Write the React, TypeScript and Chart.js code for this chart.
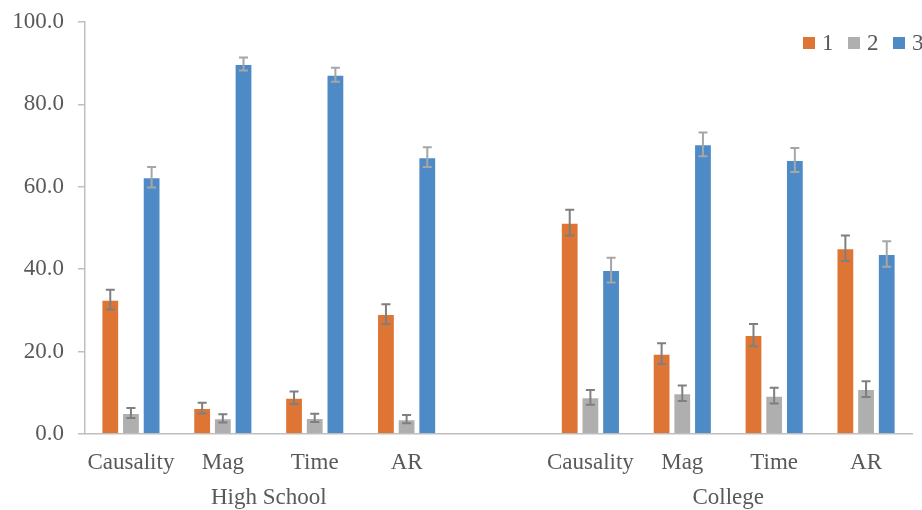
import React, { useEffect, useRef } from "react";
import { Chart, registerables } from "chart.js";

Chart.register(...registerables);

const categories = ["Causality", "Mag", "Time", "AR", "", "Causality", "Mag", "Time", "AR"];
const groupLabels = ["High School", "College"];
const groupRanges = [[0, 3], [5, 8]];
const seriesNames = ["1", "2", "3"];
const series1 = [32.6, 6.3, 8.8, 29.1, null, 51.3, 19.5, 24.0, 45.1];
const series2 = [5.1, 3.8, 3.9, 3.6, null, 8.9, 9.9, 9.3, 10.9];
const series3 = [62.3, 89.8, 87.2, 67.2, null, 39.8, 70.3, 66.5, 43.7];
const err1 = [2.4, 1.3, 1.5, 2.4, null, 3.1, 2.5, 2.7, 3.1];
const err2 = [1.2, 1.0, 1.0, 1.0, null, 1.8, 1.9, 1.9, 1.9];
const err3 = [2.5, 1.6, 1.7, 2.4, null, 3.0, 2.9, 2.9, 3.1];
const colors = ["#DF7534", "#AFAFAF", "#4E8AC6"];
const errColors = ["#7F7F7F", "#7F7F7F", "#A6A6A6"];
const yTicks = [0, 20, 40, 60, 80, 100];

const FONT = "'Liberation Serif', 'Times New Roman', serif";
const TEXT = "#595959";
const FS = 23;

export default function App() {
  const ref = useRef<HTMLCanvasElement | null>(null);
  useEffect(() => {
    if (!ref.current) return;
    const errs = [err1, err2, err3];
    const errorBars = {
      id: "errorBars",
      afterDatasetsDraw(chart: any) {
        const ctx = chart.ctx;
        const y = chart.scales.y;
        chart.data.datasets.forEach((ds: any, di: number) => {
          const meta = chart.getDatasetMeta(di);
          meta.data.forEach((el: any, i: number) => {
            const v = ds.data[i];
            const e = errs[di][i];
            if (v == null || e == null) return;
            const top = y.getPixelForValue(v + e);
            const bot = y.getPixelForValue(v - e);
            ctx.save();
            ctx.strokeStyle = errColors[di];
            ctx.lineWidth = 2;
            ctx.beginPath();
            ctx.moveTo(el.x, top);
            ctx.lineTo(el.x, bot);
            ctx.moveTo(el.x - 4.5, top);
            ctx.lineTo(el.x + 4.5, top);
            ctx.moveTo(el.x - 4.5, bot);
            ctx.lineTo(el.x + 4.5, bot);
            ctx.stroke();
            ctx.restore();
          });
        });
      },
      afterDraw(chart: any) {
        const ctx = chart.ctx;
        const x = chart.scales.x;
        ctx.save();
        ctx.font = `${FS}px ${FONT}`;
        ctx.fillStyle = TEXT;
        ctx.textAlign = "center";
        ctx.textBaseline = "middle";
        groupLabels.forEach((g, gi) => {
          const [a, b] = groupRanges[gi];
          const cx = (x.getPixelForValue(a) + x.getPixelForValue(b)) / 2;
          ctx.fillText(g, cx, chart.chartArea.bottom + 64);
        });
        // legend
        ctx.textAlign = "left";
        let lx = chart.chartArea.right - 109;
        const ly = 43;
        seriesNames.forEach((n, i) => {
          ctx.fillStyle = colors[i];
          ctx.fillRect(lx, ly - 6, 12, 12);
          ctx.fillStyle = TEXT;
          ctx.fillText(n, lx + 19, ly + 1);
          lx += 45;
        });
        ctx.restore();
      },
    };
    const chart = new Chart(ref.current, {
      type: "bar",
      data: {
        labels: categories,
        datasets: [series1, series2, series3].map((d, i) => ({
          label: seriesNames[i],
          data: d,
          backgroundColor: colors[i],
          borderColor: "rgba(255,255,255,0.35)",
          borderWidth: 1,
          barPercentage: 0.86,
          categoryPercentage: 0.675,
        })),
      },
      options: {
        animation: false,
        responsive: false,
        maintainAspectRatio: false,
        layout: { padding: { top: 22, right: 10, left: 0, bottom: 0 } },
        plugins: { legend: { display: false }, tooltip: { enabled: false } },
        scales: {
          x: {
            grid: { display: false, drawTicks: false },
            border: { color: "#BFBFBF", width: 1.5 },
            ticks: {
              color: TEXT,
              font: { family: FONT, size: FS },
              maxRotation: 0,
              autoSkip: false,
              padding: 15,
            },
            afterFit: (s: any) => {
              s.height = 76;
              s.paddingLeft = 0;
              s.paddingRight = 0;
            },
          },
          y: {
            min: 0,
            max: 100,
            afterBuildTicks: (s: any) => {
              s.ticks = yTicks.map((v) => ({ value: v }));
            },
            grid: {
              display: true,
              drawOnChartArea: false,
              drawTicks: true,
              tickLength: 7,
              color: "#BFBFBF",
              lineWidth: 1.5,
            },
            border: { color: "#BFBFBF", width: 1.5 },
            ticks: {
              color: TEXT,
              font: { family: FONT, size: FS },
              padding: 14,
              callback: (v: any) => Number(v).toFixed(1),
            },
            afterFit: (s: any) => {
              s.width = 85;
              s.paddingTop = 0;
              s.paddingBottom = 0;
            },
          },
        },
      },
      plugins: [errorBars],
    });
    return () => chart.destroy();
  }, []);
  return (
    <div style={{ position: "fixed", left: 0, top: 0, width: 922, height: 510, background: "#fff" }}>
      <canvas ref={ref} width={922} height={510} style={{ width: 922, height: 510 }} />
    </div>
  );
}
